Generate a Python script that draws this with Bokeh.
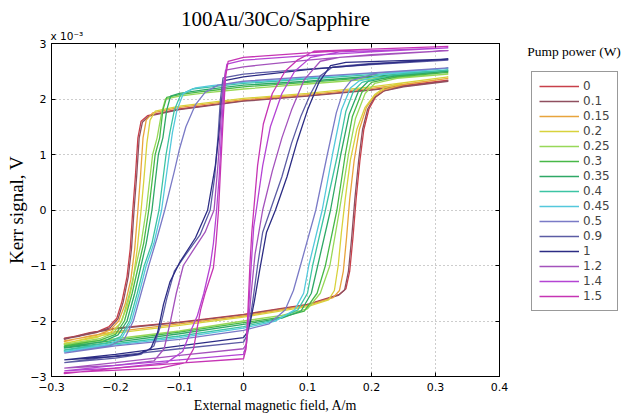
import numpy as np
from bokeh.plotting import figure
from bokeh.models import Legend, LegendItem, Label, LinearAxis, FixedTicker, Range1d, Title
from bokeh.layouts import row
from bokeh.embed import file_html
from bokeh.resources import INLINE

# ---------------- data ----------------
powers = ["0", "0.1", "0.15", "0.2", "0.25", "0.3", "0.35", "0.4", "0.45",
          "0.5", "0.9", "1", "1.2", "1.4", "1.5"]
colors = ["#c8404a", "#8f4f5f", "#e8a43c", "#d8d23c", "#98d858", "#48b848",
          "#2ea866", "#3cc4a4", "#54c8dc", "#7a7ac6", "#5c5ca4", "#2c2c84",
          "#a452bc", "#b444d4", "#c634b4"]

x_ticks = [-0.3, -0.2, -0.1, 0.0, 0.1, 0.2, 0.3, 0.4]
x_tick_labels = ["\u22120.3", "\u22120.2", "\u22120.1", "0", "0.1", "0.2", "0.3", "0.4"]
y_ticks = [-3, -2, -1, 0, 1, 2, 3]
y_tick_labels = ["\u22123", "\u22122", "\u22121", "0", "1", "2", "3"]

# hysteresis loops: (field A/m, Kerr signal in units of 1e-3 V)
# descending-field branch followed by ascending-field branch
loop_p0 = [(0.32, 2.34), (0.26, 2.26), (0.2, 2.17), (0.1, 2.06), (0.0, 1.97), (-0.1, 1.82), (-0.15, 1.7),
           (-0.16, 1.6), (-0.165, 1.3), (-0.169, 0.6), (-0.173, 0.0), (-0.177, -0.7), (-0.182, -1.2),
           (-0.19, -1.65), (-0.198, -1.95), (-0.21, -2.1), (-0.23, -2.2), (-0.255, -2.26), (-0.28, -2.31),
           (-0.28, -2.32), (-0.24, -2.21), (-0.2, -2.13), (-0.1, -2.02), (0.0, -1.88), (0.1, -1.7),
           (0.15, -1.52), (0.16, -1.42), (0.166, -1.1), (0.171, -0.5), (0.176, 0.2), (0.182, 0.9),
           (0.188, 1.45), (0.196, 1.82), (0.206, 2.03), (0.22, 2.15), (0.25, 2.23), (0.32, 2.33)]
loop_p01 = [(0.32, 2.32), (0.26, 2.24), (0.2, 2.16), (0.1, 2.05), (0.0, 1.96), (-0.1, 1.81), (-0.148, 1.69),
            (-0.158, 1.58), (-0.163, 1.3), (-0.167, 0.6), (-0.171, 0.0), (-0.175, -0.7), (-0.18, -1.2),
            (-0.188, -1.66), (-0.196, -1.96), (-0.208, -2.12), (-0.23, -2.21), (-0.255, -2.27), (-0.28, -2.32),
            (-0.28, -2.33), (-0.24, -2.22), (-0.2, -2.14), (-0.1, -2.03), (0.0, -1.89), (0.1, -1.71),
            (0.148, -1.54), (0.158, -1.44), (0.164, -1.1), (0.169, -0.5), (0.174, 0.2), (0.18, 0.9),
            (0.186, 1.45), (0.194, 1.82), (0.204, 2.02), (0.218, 2.14), (0.25, 2.22), (0.32, 2.32)]
loop_p015 = [(0.32, 2.37), (0.26, 2.28), (0.2, 2.19), (0.1, 2.08), (0.0, 1.99), (-0.1, 1.85), (-0.142, 1.75),
             (-0.152, 1.62), (-0.157, 1.3), (-0.161, 0.6), (-0.165, 0.0), (-0.17, -0.7), (-0.176, -1.25),
             (-0.185, -1.7), (-0.195, -2.0), (-0.208, -2.16), (-0.23, -2.26), (-0.255, -2.31), (-0.28, -2.36),
             (-0.28, -2.37), (-0.24, -2.27), (-0.2, -2.19), (-0.1, -2.05), (0.0, -1.91), (0.1, -1.72),
             (0.14, -1.58), (0.15, -1.45), (0.156, -1.1), (0.161, -0.5), (0.166, 0.2), (0.173, 0.9),
             (0.181, 1.45), (0.192, 1.85), (0.205, 2.06), (0.22, 2.17), (0.25, 2.26), (0.32, 2.37)]
loop_p02 = [(0.32, 2.4), (0.26, 2.31), (0.2, 2.22), (0.1, 2.1), (0.0, 2.01), (-0.1, 1.87), (-0.138, 1.78),
            (-0.146, 1.62), (-0.151, 1.2), (-0.156, 0.5), (-0.16, 0.0), (-0.166, -0.7), (-0.173, -1.3),
            (-0.182, -1.75), (-0.193, -2.05), (-0.207, -2.2), (-0.23, -2.3), (-0.255, -2.35), (-0.28, -2.4),
            (-0.28, -2.41), (-0.24, -2.3), (-0.2, -2.22), (-0.1, -2.08), (0.0, -1.93), (0.1, -1.74),
            (0.133, -1.62), (0.142, -1.45), (0.148, -1.0), (0.153, -0.4), (0.159, 0.2), (0.167, 0.9),
            (0.177, 1.45), (0.19, 1.85), (0.205, 2.08), (0.22, 2.2), (0.25, 2.29), (0.32, 2.4)]
loop_p025 = [(0.32, 2.45), (0.2, 2.36), (0.1, 2.27), (0.0, 2.18), (-0.06, 2.11), (-0.1, 2.05), (-0.122, 2.0),
             (-0.128, 1.75), (-0.135, 1.3), (-0.142, 1.0), (-0.152, 0.0), (-0.16, -0.6), (-0.168, -1.0),
             (-0.178, -1.5), (-0.19, -2.0), (-0.203, -2.22), (-0.225, -2.32), (-0.28, -2.42),
             (-0.28, -2.43), (-0.2, -2.32), (-0.1, -2.18), (0.0, -2.0), (0.06, -1.9), (0.1, -1.78),
             (0.12, -1.5), (0.135, -1.0), (0.15, 0.0), (0.164, 1.0), (0.175, 1.65), (0.19, 2.1),
             (0.205, 2.28), (0.24, 2.37), (0.32, 2.45)]
loop_p03 = [(0.32, 2.48), (0.2, 2.39), (0.1, 2.3), (0.0, 2.22), (-0.06, 2.14), (-0.1, 2.08), (-0.12, 2.03),
            (-0.126, 1.8), (-0.131, 1.3), (-0.138, 1.0), (-0.148, 0.0), (-0.156, -0.6), (-0.164, -1.0),
            (-0.174, -1.5), (-0.186, -2.0), (-0.2, -2.24), (-0.225, -2.35), (-0.28, -2.45),
            (-0.28, -2.46), (-0.2, -2.35), (-0.1, -2.2), (0.0, -2.03), (0.06, -1.93), (0.095, -1.82),
            (0.115, -1.5), (0.128, -1.0), (0.146, 0.0), (0.159, 1.0), (0.17, 1.68), (0.185, 2.12),
            (0.2, 2.3), (0.24, 2.4), (0.32, 2.48)]
loop_p035 = [(0.32, 2.5), (0.2, 2.41), (0.1, 2.32), (0.0, 2.25), (-0.06, 2.17), (-0.1, 2.1), (-0.114, 2.05),
             (-0.12, 1.8), (-0.126, 1.3), (-0.133, 1.0), (-0.143, 0.0), (-0.152, -0.6), (-0.16, -1.0),
             (-0.17, -1.5), (-0.182, -2.0), (-0.196, -2.25), (-0.22, -2.37), (-0.28, -2.48),
             (-0.28, -2.49), (-0.2, -2.38), (-0.1, -2.23), (0.0, -2.06), (0.06, -1.95), (0.09, -1.82),
             (0.106, -1.5), (0.116, -1.0), (0.136, 0.0), (0.152, 1.0), (0.165, 1.72), (0.18, 2.15),
             (0.195, 2.32), (0.24, 2.42), (0.32, 2.5)]
loop_p04 = [(0.32, 2.52), (0.2, 2.44), (0.1, 2.36), (0.0, 2.28), (-0.05, 2.22), (-0.08, 2.18), (-0.098, 2.08),
            (-0.108, 1.8), (-0.115, 1.4), (-0.121, 1.0), (-0.132, 0.0), (-0.143, -0.6), (-0.155, -1.0),
            (-0.166, -1.5), (-0.178, -2.0), (-0.192, -2.28), (-0.215, -2.4), (-0.28, -2.52),
            (-0.28, -2.53), (-0.2, -2.41), (-0.1, -2.27), (0.0, -2.1), (0.05, -1.98), (0.085, -1.8),
            (0.1, -1.5), (0.108, -1.0), (0.128, 0.0), (0.147, 1.0), (0.16, 1.78), (0.172, 2.15),
            (0.185, 2.3), (0.23, 2.43), (0.32, 2.52)]
loop_p045 = [(0.32, 2.55), (0.2, 2.46), (0.1, 2.38), (0.0, 2.3), (-0.05, 2.24), (-0.075, 2.2), (-0.094, 2.1),
             (-0.104, 1.8), (-0.111, 1.4), (-0.116, 1.0), (-0.128, 0.0), (-0.14, -0.6), (-0.152, -1.0),
             (-0.163, -1.5), (-0.175, -2.0), (-0.19, -2.3), (-0.21, -2.42), (-0.28, -2.55),
             (-0.28, -2.56), (-0.2, -2.43), (-0.1, -2.3), (0.0, -2.13), (0.05, -2.0), (0.08, -1.8),
             (0.094, -1.5), (0.102, -1.0), (0.123, 0.0), (0.139, 1.0), (0.153, 1.8), (0.167, 2.2),
             (0.18, 2.32), (0.22, 2.45), (0.32, 2.55)]
loop_p05 = [(0.32, 2.56), (0.2, 2.47), (0.1, 2.4), (0.0, 2.32), (-0.04, 2.25), (-0.06, 2.12), (-0.075, 1.9),
            (-0.09, 1.5), (-0.1, 1.1), (-0.108, 0.7), (-0.123, 0.0), (-0.135, -0.5), (-0.148, -1.0),
            (-0.16, -1.5), (-0.172, -2.0), (-0.186, -2.32), (-0.21, -2.45), (-0.28, -2.58),
            (-0.28, -2.58), (-0.2, -2.45), (-0.1, -2.33), (0.0, -2.17), (0.04, -2.05), (0.065, -1.8),
            (0.078, -1.45), (0.089, -1.0), (0.113, 0.0), (0.131, 1.0), (0.145, 1.75), (0.156, 2.15),
            (0.168, 2.33), (0.21, 2.47), (0.32, 2.56)]
loop_p09 = [(0.32, 2.7), (0.2, 2.62), (0.1, 2.54), (0.0, 2.45), (-0.032, 2.38), (-0.036, 2.0), (-0.04, 1.3),
            (-0.045, 0.6), (-0.052, 0.0), (-0.068, -0.45), (-0.09, -0.8), (-0.108, -1.1), (-0.12, -1.6),
            (-0.13, -2.1), (-0.14, -2.45), (-0.16, -2.6), (-0.2, -2.67), (-0.28, -2.75),
            (-0.28, -2.75), (-0.2, -2.63), (-0.1, -2.5), (0.0, -2.38), (0.006, -2.25), (0.01, -2.0),
            (0.015, -1.6), (0.022, -1.0), (0.03, -0.4), (0.042, 0.0), (0.06, 0.6), (0.075, 1.2),
            (0.09, 1.7), (0.105, 2.1), (0.12, 2.42), (0.14, 2.58), (0.2, 2.64), (0.32, 2.7)]
loop_p1 = [(0.32, 2.72), (0.2, 2.63), (0.1, 2.53), (0.0, 2.4), (-0.03, 2.33), (-0.034, 2.0), (-0.038, 1.4),
           (-0.044, 0.8), (-0.056, 0.0), (-0.075, -0.5), (-0.1, -0.95), (-0.115, -1.3), (-0.125, -1.7),
           (-0.134, -2.2), (-0.145, -2.5), (-0.165, -2.6), (-0.2, -2.64), (-0.28, -2.7),
           (-0.28, -2.7), (-0.2, -2.6), (-0.1, -2.45), (0.0, -2.3), (0.006, -2.2), (0.011, -2.0),
           (0.017, -1.64), (0.025, -1.1), (0.036, -0.4), (0.05, 0.0), (0.068, 0.6), (0.084, 1.24),
           (0.1, 1.8), (0.118, 2.3), (0.136, 2.6), (0.16, 2.66), (0.32, 2.72)]
loop_p12 = [(0.32, 2.87), (0.2, 2.8), (0.1, 2.7), (0.0, 2.58), (-0.028, 2.52), (-0.032, 2.2), (-0.036, 1.5),
            (-0.04, 0.8), (-0.046, 0.0), (-0.06, -0.4), (-0.08, -0.75), (-0.094, -1.0), (-0.105, -1.5),
            (-0.114, -2.0), (-0.124, -2.5), (-0.14, -2.72), (-0.2, -2.8), (-0.28, -2.85),
            (-0.28, -2.85), (-0.2, -2.75), (-0.1, -2.62), (0.0, -2.5), (0.005, -2.4), (0.008, -2.0),
            (0.012, -1.5), (0.018, -0.8), (0.03, 0.0), (0.045, 0.7), (0.06, 1.3), (0.075, 1.8),
            (0.095, 2.35), (0.12, 2.68), (0.15, 2.75), (0.32, 2.87)]
loop_p14 = [(0.32, 2.92), (0.2, 2.85), (0.1, 2.78), (0.0, 2.7), (-0.026, 2.63), (-0.03, 2.3), (-0.034, 1.5),
            (-0.038, 0.6), (-0.042, 0.0), (-0.047, -0.6), (-0.052, -1.0), (-0.062, -1.5), (-0.072, -1.9),
            (-0.083, -2.2), (-0.095, -2.55), (-0.12, -2.75), (-0.2, -2.85), (-0.28, -2.9),
            (-0.28, -2.9), (-0.2, -2.8), (-0.1, -2.7), (0.0, -2.6), (0.004, -2.45), (0.008, -1.8),
            (0.012, -1.0), (0.016, -0.3), (0.02, 0.0), (0.03, 0.8), (0.042, 1.5), (0.06, 2.1),
            (0.08, 2.5), (0.105, 2.75), (0.15, 2.85), (0.32, 2.92)]
loop_p15 = [(0.32, 2.95), (0.2, 2.9), (0.1, 2.83), (0.0, 2.75), (-0.024, 2.68), (-0.028, 2.4), (-0.032, 1.6),
            (-0.036, 0.7), (-0.039, 0.0), (-0.043, -0.6), (-0.047, -1.04), (-0.06, -1.5), (-0.067, -1.8),
            (-0.072, -2.1), (-0.078, -2.5), (-0.09, -2.75), (-0.13, -2.85), (-0.28, -2.93),
            (-0.28, -2.95), (-0.2, -2.85), (-0.1, -2.76), (0.0, -2.68), (0.004, -2.5), (0.007, -1.8),
            (0.01, -1.0), (0.013, -0.4), (0.016, 0.0), (0.022, 0.8), (0.031, 1.55), (0.045, 2.1),
            (0.065, 2.5), (0.084, 2.7), (0.11, 2.86), (0.2, 2.9), (0.32, 2.95)]

loops = [loop_p0, loop_p01, loop_p015, loop_p02, loop_p025, loop_p03, loop_p035, loop_p04,
         loop_p045, loop_p05, loop_p09, loop_p1, loop_p12, loop_p14, loop_p15]

# ---------------- main plot ----------------
SANS = "DejaVu Sans"
SERIF = "Liberation Serif"
TOP, BOTTOM = 43, 43

p = figure(width=511, height=419, x_range=Range1d(-0.3, 0.4), y_range=Range1d(-3, 3),
           output_backend="svg", toolbar_location=None,
           min_border_left=51, min_border_right=12, min_border_top=TOP, min_border_bottom=BOTTOM)
p.background_fill_color = "white"
p.border_fill_color = "white"
p.outline_line_color = "black"
p.outline_line_width = 1

for ax, ticks, labels in ((p.xaxis[0], x_ticks, x_tick_labels), (p.yaxis[0], y_ticks, y_tick_labels)):
    ax.ticker = FixedTicker(ticks=ticks)
    ax.major_label_overrides = {t: l for t, l in zip(ticks, labels)}
    ax.major_tick_in = 4
    ax.major_tick_out = 0
    ax.minor_tick_line_color = None
    ax.axis_line_color = "black"
    ax.major_tick_line_color = "black"
    ax.major_label_text_font = SANS
    ax.major_label_text_font_size = "11px"
    ax.major_label_text_color = "black"
    ax.axis_label_text_font = SERIF
    ax.axis_label_text_font_style = "normal"
    ax.axis_label_text_color = "black"

p.xaxis.axis_label = "External magnetic field, A/m"
p.xaxis.axis_label_text_font_size = "14px"
p.xaxis.major_label_standoff = 6
p.xaxis.axis_label_standoff = 4
p.yaxis.axis_label = "Kerr signal, V"
p.yaxis.axis_label_text_font_size = "19px"
p.yaxis.major_label_standoff = 5
p.yaxis.axis_label_standoff = 0

for ticks, place in ((x_ticks, "above"), (y_ticks, "right")):
    extra = LinearAxis(ticker=FixedTicker(ticks=ticks),
                       major_label_overrides={t: "" for t in ticks},
                       major_label_text_font_size="0px", major_label_standoff=0,
                       major_tick_in=4, major_tick_out=0, minor_tick_line_color=None,
                       axis_line_color="black", major_tick_line_color="black")
    p.add_layout(extra, place)

# exponent note for the y axis
p.add_layout(Title(text="x 10\u207b\u00b3", align="left", offset=-1, standoff=4,
                   text_font=SANS, text_font_size="10.5px", text_font_style="normal",
                   text_color="black"), "above")
# chart title
p.add_layout(Title(text="100Au/30Co/Sapphire", align="center", standoff=-10,
                   text_font=SERIF, text_font_size="21px", text_font_style="normal",
                   text_color="black"), "above")

for g, ticks in ((p.xgrid[0], x_ticks), (p.ygrid[0], y_ticks)):
    g.ticker = FixedTicker(ticks=ticks)
    g.grid_line_color = "#9a9a9a"
    g.grid_line_dash = "1 3"
    g.grid_line_width = 1

for loop, col in zip(loops, colors):
    xs = [pt[0] for pt in loop]
    ys = [pt[1] for pt in loop]
    p.line(xs, ys, line_color=col, line_width=1.3)

# ---------------- legend panel (page-pixel coordinates) ----------------
q = figure(width=116, height=419, x_range=Range1d(511, 627), y_range=Range1d(419 - BOTTOM, TOP),
           output_backend="svg", toolbar_location=None,
           min_border_left=0, min_border_right=0, min_border_top=TOP, min_border_bottom=BOTTOM,
           x_axis_location=None, y_axis_location=None)
q.outline_line_color = None
q.background_fill_color = "white"
q.border_fill_color = "white"
q.xgrid.visible = False
q.ygrid.visible = False

items = []
for name, col in zip(powers, colors):
    r = q.line(x=np.array([np.nan]), y=np.array([np.nan]), line_color=col, line_width=1.3)
    items.append(LegendItem(label=name, renderers=[r]))

legend = Legend(items=items, location=(20, 419 - BOTTOM - 311), margin=0, padding=7, spacing=1,
                glyph_width=40, glyph_height=14, label_height=14, label_standoff=4,
                label_text_font=SANS, label_text_font_size="12px",
                border_line_color="#333333", border_line_width=1,
                background_fill_color="white", background_fill_alpha=1.0)
q.add_layout(legend)
q.add_layout(Label(x=573.5, y=51, text="Pump power (W)", text_font=SERIF,
                   text_font_size="13.5px", text_baseline="middle", text_align="center",
                   text_color="black"))

layout = row(p, q)
open("out.html", "w").write(file_html(layout, INLINE))
